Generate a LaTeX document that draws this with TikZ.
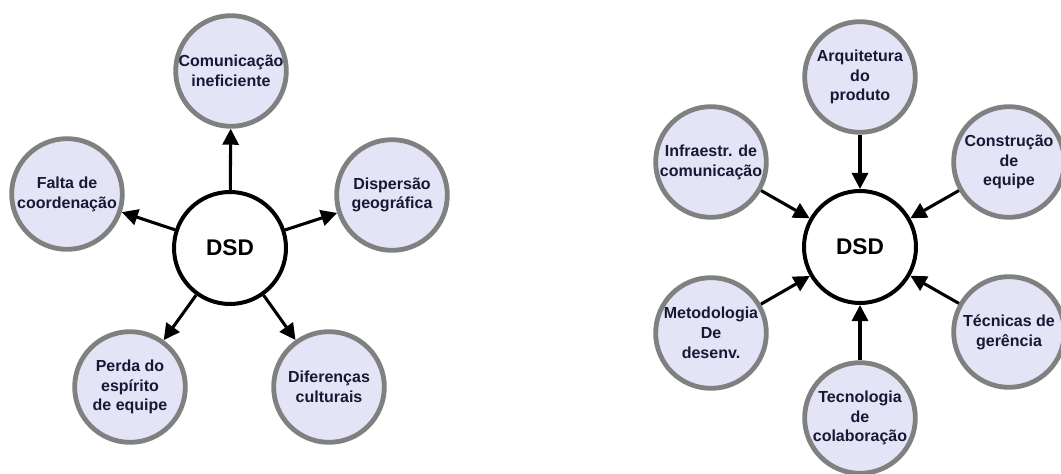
\documentclass[tikz,border=0pt]{standalone}
\usepackage{fontspec}
\setmainfont{Liberation Sans}
\usetikzlibrary{arrows.meta}
\definecolor{ringgray}{RGB}{128,128,128}
\definecolor{bubble}{RGB}{228,228,247}
\definecolor{inkblue}{RGB}{24,24,52}
\begin{document}
\begin{tikzpicture}[x=0.75pt,y=-0.75pt,
  topic/.style={circle,draw=ringgray,line width=3.6pt,fill=bubble,
    minimum size=83pt,inner sep=0pt,align=center,text=inkblue,
    font=\bfseries\fontsize{12}{14.8}\selectfont},
  hub/.style={circle,draw=black,line width=3pt,fill=white,
    minimum size=84pt,inner sep=0pt,
    font=\bfseries\fontsize{17}{18}\selectfont},
  arr/.style={line width=2.3pt,-{Triangle[length=12pt,width=12pt]}}]
\useasboundingbox (0,0) rectangle (1061,474);

% left cluster: effects radiating out of DSD
\node[hub] (dsdL) at (230,248) {DSD};
\node[topic] (com) at (231,71) {Comunicação\\ineficiente};
\node[topic] (fal) at (67,194) {Falta de\\coordenação};
\node[topic] (dis) at (392,195) {Dispersão\\geográfica};
\node[topic] (per) at (130,387) {Perda do\\espírito\\de equipe};
\node[topic] (dif) at (329,387) {Diferenças\\culturais};
\foreach \t in {com,fal,dis,per,dif} \draw[arr] (dsdL) -- (\t);

% right cluster: factors pointing into DSD
\node[hub] (dsdR) at (860,247) {DSD};
\node[topic] (arq) at (860,77) {Arquitetura\\do\\produto};
\node[topic] (inf) at (711,162) {Infraestr. de\\comunicação};
\node[topic] (con) at (1009,162) {Construção\\de\\equipe};
\node[topic] (met) at (711,333) {Metodologia\\De\\desenv.};
\node[topic] (tec) at (1009,332) {Técnicas de\\gerência};
\node[topic] (col) at (860,418) {Tecnologia\\de\\colaboração};
\foreach \s in {arq,inf,con,met,tec,col} \draw[arr] (\s) -- (dsdR);
\end{tikzpicture}
\end{document}
